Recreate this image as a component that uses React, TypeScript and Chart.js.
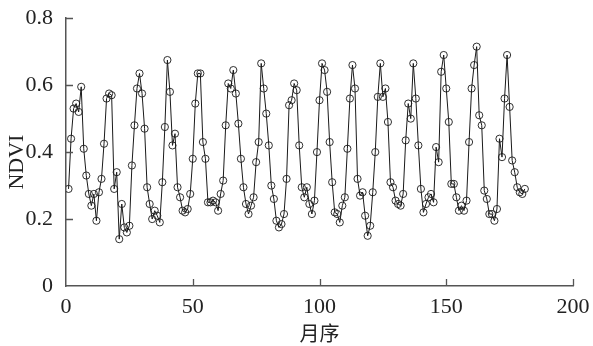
import React, { useEffect, useRef } from "react";
import { Chart, registerables } from "chart.js";

Chart.register(...registerables);

// Monthly NDVI values, month 1 .. 181
const ndvi: number[] = [
  0.29, 0.44, 0.53, 0.545, 0.52, 0.595, 0.41, 0.33, 0.275, 0.24,
  0.275, 0.195, 0.28, 0.32, 0.425, 0.56, 0.575, 0.57, 0.29, 0.34,
  0.14, 0.245, 0.175, 0.16, 0.18, 0.36, 0.48, 0.59, 0.635, 0.575,
  0.47, 0.295, 0.245, 0.2, 0.225, 0.21, 0.19, 0.31, 0.475, 0.675,
  0.58, 0.42, 0.455, 0.295, 0.265, 0.225, 0.22, 0.23, 0.275, 0.38,
  0.545, 0.635, 0.635, 0.43, 0.38, 0.25, 0.25, 0.255, 0.25, 0.225,
  0.275, 0.315, 0.48, 0.605, 0.59, 0.645, 0.575, 0.485, 0.38, 0.295,
  0.245, 0.215, 0.24, 0.265, 0.37, 0.43, 0.665, 0.59, 0.515, 0.42,
  0.3, 0.26, 0.195, 0.175, 0.185, 0.215, 0.32, 0.54, 0.555, 0.605,
  0.585, 0.42, 0.295, 0.265, 0.295, 0.245, 0.215, 0.255, 0.4, 0.555,
  0.665, 0.645, 0.58, 0.43, 0.31, 0.22, 0.215, 0.19, 0.24, 0.265,
  0.41, 0.56, 0.66, 0.59, 0.32, 0.27, 0.28, 0.21, 0.15, 0.18,
  0.28, 0.4, 0.565, 0.665, 0.565, 0.59, 0.49, 0.31, 0.295, 0.255,
  0.245, 0.24, 0.275, 0.435, 0.545, 0.5, 0.665, 0.56, 0.42, 0.29,
  0.22, 0.245, 0.265, 0.275, 0.25, 0.415, 0.37, 0.64, 0.69, 0.59,
  0.49, 0.305, 0.305, 0.265, 0.225, 0.24, 0.225, 0.255, 0.43, 0.59,
  0.66, 0.715, 0.51, 0.48, 0.285, 0.26, 0.215, 0.215, 0.195, 0.23,
  0.44, 0.385, 0.56, 0.69, 0.535, 0.375, 0.34, 0.295, 0.28, 0.275,
  0.29,
];
const firstMonth = 1;

const xTicks = [0, 50, 100, 150, 200];
const yTicks = [0, 0.2, 0.4, 0.6, 0.8];
const xTitle = "月序";
const yTitle = "NDVI";

const AXIS = "#555";
const TEXT = "#222";
const SERIF = "Liberation Serif";
const CJK = "Noto Sans CJK SC";

const inwardTicks = {
  id: "inwardTicks",
  afterDraw(chart: any) {
    const { ctx, chartArea, scales } = chart;
    const x = scales.x;
    const y = scales.y;
    ctx.save();
    ctx.strokeStyle = AXIS;
    ctx.lineWidth = 1.3;
    ctx.beginPath();
    xTicks.forEach((v) => {
      if (v === 0) return;
      const px = Math.round(x.getPixelForValue(v)) + 0.5;
      ctx.moveTo(px, chartArea.bottom);
      ctx.lineTo(px, chartArea.bottom - 7);
    });
    yTicks.forEach((v) => {
      if (v === 0) return;
      const py = Math.round(y.getPixelForValue(v)) + 0.5;
      ctx.moveTo(chartArea.left, py);
      ctx.lineTo(chartArea.left + 7, py);
    });
    ctx.stroke();
    // y-axis title, rotated
    ctx.fillStyle = TEXT;
    ctx.font = `22px "${SERIF}"`;
    ctx.textAlign = "center";
    ctx.textBaseline = "middle";
    ctx.translate(17, (chartArea.top + chartArea.bottom) / 2 + 10);
    ctx.rotate(-Math.PI / 2);
    ctx.fillText(yTitle, 0, 0);
    ctx.restore();
  },
};

export default function App() {
  const ref = useRef<HTMLCanvasElement | null>(null);

  useEffect(() => {
    let chart: any = null;
    let cancelled = false;
    const build = () => {
      if (cancelled || !ref.current) return;
      const points = ndvi.map((v, i) => ({ x: firstMonth + i, y: v }));
      chart = new Chart(ref.current, {
        type: "line",
        data: {
          datasets: [
            {
              data: points,
              borderColor: "#1a1a1a",
              borderWidth: 1,
              pointStyle: "circle",
              pointRadius: 3.6,
              pointBorderWidth: 0.9,
              pointBorderColor: "#1a1a1a",
              pointBackgroundColor: "rgba(0,0,0,0)",
              fill: false,
              tension: 0,
            },
          ],
        },
        options: {
          animation: false,
          responsive: false,
          maintainAspectRatio: false,
          layout: { padding: { left: 0, right: 20, top: 15, bottom: 0 } },
          plugins: { legend: { display: false }, tooltip: { enabled: false } },
          scales: {
            x: {
              type: "linear",
              min: 0,
              max: 200,
              afterBuildTicks: (s: any) => {
                s.ticks = xTicks.map((v) => ({ value: v }));
              },
              afterFit: (s: any) => {
                s.height = 60;
              },
              grid: { display: false },
              border: { display: true, color: AXIS, width: 1.5 },
              ticks: {
                color: TEXT,
                font: { family: SERIF, size: 22 },
                padding: 0,
                maxRotation: 0,
              },
              title: {
                display: true,
                text: xTitle,
                color: TEXT,
                font: { family: CJK, size: 20 },
                padding: { top: 0, bottom: 1 },
              },
            },
            y: {
              type: "linear",
              min: 0,
              max: 0.8,
              afterBuildTicks: (s: any) => {
                s.ticks = yTicks.map((v) => ({ value: v }));
              },
              afterFit: (s: any) => {
                s.width = 66;
              },
              grid: { display: false },
              border: { display: true, color: AXIS, width: 1.5 },
              ticks: {
                color: TEXT,
                font: { family: SERIF, size: 22 },
                padding: 5,
                callback: (v: any) => String(Number(v)),
              },
              title: { display: false },
            },
          },
        },
        plugins: [inwardTicks],
      });
    };
    const fontsApi: any = (document as any).fonts;
    if (fontsApi && fontsApi.load) {
      Promise.all([
        fontsApi.load(`22px "${SERIF}"`),
        fontsApi.load(`20px "${CJK}"`, xTitle),
      ])
        .catch(() => null)
        .then(build);
    } else {
      build();
    }
    return () => {
      cancelled = true;
      if (chart) chart.destroy();
    };
  }, []);

  return (
    <div style={{ position: "fixed", left: 0, top: 0, width: 593, height: 346, background: "#fff" }}>
      <canvas ref={ref} width={593} height={346} style={{ width: 593, height: 346, display: "block" }} />
    </div>
  );
}
